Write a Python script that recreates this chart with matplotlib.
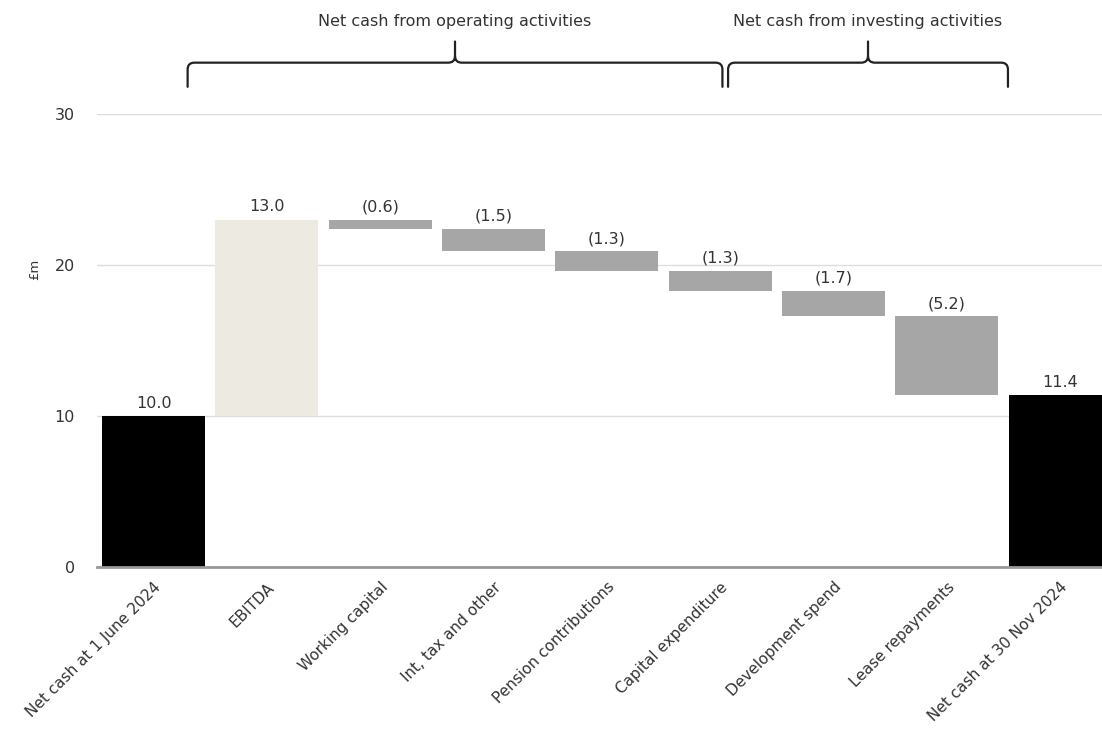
import numpy as np
import matplotlib.pyplot as plt
from matplotlib.path import Path
from matplotlib.patches import PathPatch

plt.rcParams['font.family'] = ['DejaVu Sans']

# Данные
categories = ["Net cash at 1 June 2024", "EBITDA", "Working capital", "Int, tax and other",
              "Pension contributions", "Capital expenditure", "Development spend",
              "Lease repayments", "Net cash at 30 Nov 2024"]
changes = [10.0, 13.0, -0.6, -1.5, -1.3, -1.3, -1.7, -5.2, 11.4]
kinds = ["total", "up", "down", "down", "down", "down", "down", "down", "total"]
groups = [("Net cash from operating activities", 0.3, 5.02),
          ("Net cash from investing activities", 5.07, 7.54)]

colors = {"total": "#000000", "up": "#EDEBE1", "down": "#A6A6A6"}
text_col = "#333333"

fig = plt.figure(figsize=(11.02, 7.36), dpi=100)
ax = fig.add_axes([0.088, 0.2296, 0.912, 0.6155])

x = np.arange(len(categories))
running = 0.0
for i, (v, k) in enumerate(zip(changes, kinds)):
    if k == "total":
        bottom, height = 0, v
        running = v
    elif k == "up":
        bottom, height = running, v
        running += v
    else:
        bottom, height = running + v, -v
        running += v
    ax.bar(x[i], height, bottom=bottom, width=0.91, color=colors[k], zorder=3)
    label = f"{v:.1f}" if v >= 0 else f"({-v:.1f})"
    ax.text(x[i], bottom + height + 0.35, label, ha="center", va="bottom",
            fontsize=11.5, color=text_col)

ax.set_xlim(-0.5, 8.37)
ax.set_ylim(0, 30)
ax.set_yticks([0, 10, 20, 30])
ax.yaxis.grid(True, color="#DDDDDD", linewidth=1, zorder=0)
ax.tick_params(axis="y", length=0, pad=16, labelsize=11.5, labelcolor=text_col)
ax.tick_params(axis="x", length=0, pad=9)
ax.set_xticks(x)
ax.set_xticklabels(categories, rotation=45, ha="right", rotation_mode="anchor",
                   fontsize=11, color=text_col)
for s in ["top", "right", "left"]:
    ax.spines[s].set_visible(False)
ax.spines["bottom"].set_color("#999999")
ax.spines["bottom"].set_linewidth(2)
ax.spines["bottom"].set_zorder(4)
ax.set_ylabel("£m", fontsize=9.5, color=text_col)
ax.yaxis.set_label_coords(-0.056, 0.656)


# Фигурные скобки над группами
def brace(ax, x0, x1, y, h, tip):
    xm = (x0 + x1) / 2
    r = 0.06
    c = 0.45
    verts = [(x0, y - h), (x0, y - c), (x0, y), (x0 + r, y),
             (xm - r, y), (xm, y), (xm, y + c), (xm, y + tip),
             (xm, y + c), (xm, y), (xm + r, y),
             (x1 - r, y), (x1, y), (x1, y - c), (x1, y - h)]
    codes = [Path.MOVETO, Path.LINETO, Path.CURVE3, Path.CURVE3,
             Path.LINETO, Path.CURVE3, Path.CURVE3, Path.LINETO,
             Path.MOVETO, Path.CURVE3, Path.CURVE3,
             Path.LINETO, Path.CURVE3, Path.CURVE3, Path.LINETO]
    ax.add_patch(PathPatch(Path(verts, codes), fill=False, edgecolor="#222222",
                           linewidth=1.6, clip_on=False, capstyle="round"))


for name, x0, x1 in groups:
    brace(ax, x0, x1, 33.4, 1.6, 1.4)
    ax.text((x0 + x1) / 2, 35.6, name, ha="center", va="bottom",
            fontsize=11.5, color=text_col, clip_on=False)

fig.savefig("out.png", dpi=100)
